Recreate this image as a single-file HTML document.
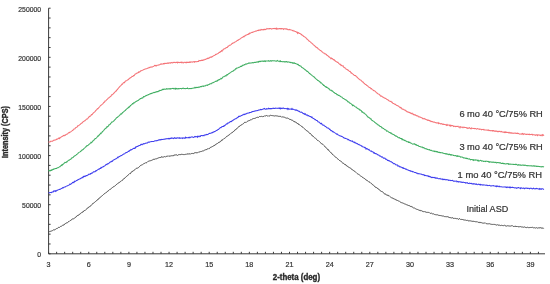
<!DOCTYPE html>
<html><head><meta charset="utf-8"><style>
html,body{margin:0;padding:0;background:#fff;}
svg{display:block;font-family:"Liberation Sans",sans-serif;filter:blur(0.35px);}
</style></head><body>
<svg width="550" height="284" viewBox="0 0 550 284">
<rect width="550" height="284" fill="#fff"/>
<g stroke="#3a3a3a" stroke-width="1" fill="none">
<path d="M48.6 8.2 V253.8 H545"/>
<line x1="48.6" y1="253.80" x2="50.6" y2="253.80"/><line x1="48.6" y1="243.98" x2="50.6" y2="243.98"/><line x1="48.6" y1="234.15" x2="50.6" y2="234.15"/><line x1="48.6" y1="224.33" x2="50.6" y2="224.33"/><line x1="48.6" y1="214.50" x2="50.6" y2="214.50"/><line x1="48.6" y1="204.68" x2="50.6" y2="204.68"/><line x1="48.6" y1="194.86" x2="50.6" y2="194.86"/><line x1="48.6" y1="185.03" x2="50.6" y2="185.03"/><line x1="48.6" y1="175.21" x2="50.6" y2="175.21"/><line x1="48.6" y1="165.38" x2="50.6" y2="165.38"/><line x1="48.6" y1="155.56" x2="50.6" y2="155.56"/><line x1="48.6" y1="145.74" x2="50.6" y2="145.74"/><line x1="48.6" y1="135.91" x2="50.6" y2="135.91"/><line x1="48.6" y1="126.09" x2="50.6" y2="126.09"/><line x1="48.6" y1="116.26" x2="50.6" y2="116.26"/><line x1="48.6" y1="106.44" x2="50.6" y2="106.44"/><line x1="48.6" y1="96.62" x2="50.6" y2="96.62"/><line x1="48.6" y1="86.79" x2="50.6" y2="86.79"/><line x1="48.6" y1="76.97" x2="50.6" y2="76.97"/><line x1="48.6" y1="67.14" x2="50.6" y2="67.14"/><line x1="48.6" y1="57.32" x2="50.6" y2="57.32"/><line x1="48.6" y1="47.50" x2="50.6" y2="47.50"/><line x1="48.6" y1="37.67" x2="50.6" y2="37.67"/><line x1="48.6" y1="27.85" x2="50.6" y2="27.85"/><line x1="48.6" y1="18.02" x2="50.6" y2="18.02"/><line x1="48.6" y1="8.20" x2="50.6" y2="8.20"/><line x1="48.60" y1="253.8" x2="48.60" y2="251.8"/><line x1="56.63" y1="253.8" x2="56.63" y2="251.8"/><line x1="64.66" y1="253.8" x2="64.66" y2="251.8"/><line x1="72.69" y1="253.8" x2="72.69" y2="251.8"/><line x1="80.72" y1="253.8" x2="80.72" y2="251.8"/><line x1="88.75" y1="253.8" x2="88.75" y2="251.8"/><line x1="96.78" y1="253.8" x2="96.78" y2="251.8"/><line x1="104.81" y1="253.8" x2="104.81" y2="251.8"/><line x1="112.84" y1="253.8" x2="112.84" y2="251.8"/><line x1="120.87" y1="253.8" x2="120.87" y2="251.8"/><line x1="128.90" y1="253.8" x2="128.90" y2="251.8"/><line x1="136.93" y1="253.8" x2="136.93" y2="251.8"/><line x1="144.96" y1="253.8" x2="144.96" y2="251.8"/><line x1="152.99" y1="253.8" x2="152.99" y2="251.8"/><line x1="161.02" y1="253.8" x2="161.02" y2="251.8"/><line x1="169.05" y1="253.8" x2="169.05" y2="251.8"/><line x1="177.08" y1="253.8" x2="177.08" y2="251.8"/><line x1="185.11" y1="253.8" x2="185.11" y2="251.8"/><line x1="193.14" y1="253.8" x2="193.14" y2="251.8"/><line x1="201.17" y1="253.8" x2="201.17" y2="251.8"/><line x1="209.20" y1="253.8" x2="209.20" y2="251.8"/><line x1="217.23" y1="253.8" x2="217.23" y2="251.8"/><line x1="225.26" y1="253.8" x2="225.26" y2="251.8"/><line x1="233.29" y1="253.8" x2="233.29" y2="251.8"/><line x1="241.32" y1="253.8" x2="241.32" y2="251.8"/><line x1="249.35" y1="253.8" x2="249.35" y2="251.8"/><line x1="257.38" y1="253.8" x2="257.38" y2="251.8"/><line x1="265.41" y1="253.8" x2="265.41" y2="251.8"/><line x1="273.44" y1="253.8" x2="273.44" y2="251.8"/><line x1="281.47" y1="253.8" x2="281.47" y2="251.8"/><line x1="289.50" y1="253.8" x2="289.50" y2="251.8"/><line x1="297.53" y1="253.8" x2="297.53" y2="251.8"/><line x1="305.56" y1="253.8" x2="305.56" y2="251.8"/><line x1="313.59" y1="253.8" x2="313.59" y2="251.8"/><line x1="321.62" y1="253.8" x2="321.62" y2="251.8"/><line x1="329.65" y1="253.8" x2="329.65" y2="251.8"/><line x1="337.68" y1="253.8" x2="337.68" y2="251.8"/><line x1="345.71" y1="253.8" x2="345.71" y2="251.8"/><line x1="353.74" y1="253.8" x2="353.74" y2="251.8"/><line x1="361.77" y1="253.8" x2="361.77" y2="251.8"/><line x1="369.80" y1="253.8" x2="369.80" y2="251.8"/><line x1="377.83" y1="253.8" x2="377.83" y2="251.8"/><line x1="385.86" y1="253.8" x2="385.86" y2="251.8"/><line x1="393.89" y1="253.8" x2="393.89" y2="251.8"/><line x1="401.92" y1="253.8" x2="401.92" y2="251.8"/><line x1="409.95" y1="253.8" x2="409.95" y2="251.8"/><line x1="417.98" y1="253.8" x2="417.98" y2="251.8"/><line x1="426.01" y1="253.8" x2="426.01" y2="251.8"/><line x1="434.04" y1="253.8" x2="434.04" y2="251.8"/><line x1="442.07" y1="253.8" x2="442.07" y2="251.8"/><line x1="450.10" y1="253.8" x2="450.10" y2="251.8"/><line x1="458.13" y1="253.8" x2="458.13" y2="251.8"/><line x1="466.16" y1="253.8" x2="466.16" y2="251.8"/><line x1="474.19" y1="253.8" x2="474.19" y2="251.8"/><line x1="482.22" y1="253.8" x2="482.22" y2="251.8"/><line x1="490.25" y1="253.8" x2="490.25" y2="251.8"/><line x1="498.28" y1="253.8" x2="498.28" y2="251.8"/><line x1="506.31" y1="253.8" x2="506.31" y2="251.8"/><line x1="514.34" y1="253.8" x2="514.34" y2="251.8"/><line x1="522.37" y1="253.8" x2="522.37" y2="251.8"/><line x1="530.40" y1="253.8" x2="530.40" y2="251.8"/><line x1="538.43" y1="253.8" x2="538.43" y2="251.8"/>
</g>
<g font-size="7.5" fill="#333" stroke="#333" stroke-width="0.2"><text x="41.1" y="257.1" text-anchor="end" textLength="3.8" lengthAdjust="spacingAndGlyphs">0</text><text x="41.1" y="208.0" text-anchor="end" textLength="19.0" lengthAdjust="spacingAndGlyphs">50000</text><text x="41.1" y="158.9" text-anchor="end" textLength="22.8" lengthAdjust="spacingAndGlyphs">100000</text><text x="41.1" y="109.7" text-anchor="end" textLength="22.8" lengthAdjust="spacingAndGlyphs">150000</text><text x="41.1" y="60.6" text-anchor="end" textLength="22.8" lengthAdjust="spacingAndGlyphs">200000</text><text x="41.1" y="11.5" text-anchor="end" textLength="22.8" lengthAdjust="spacingAndGlyphs">250000</text><text x="48.6" y="267" text-anchor="middle" textLength="4.0" lengthAdjust="spacingAndGlyphs">3</text><text x="88.8" y="267" text-anchor="middle" textLength="4.0" lengthAdjust="spacingAndGlyphs">6</text><text x="128.9" y="267" text-anchor="middle" textLength="4.0" lengthAdjust="spacingAndGlyphs">9</text><text x="169.0" y="267" text-anchor="middle" textLength="8.0" lengthAdjust="spacingAndGlyphs">12</text><text x="209.2" y="267" text-anchor="middle" textLength="8.0" lengthAdjust="spacingAndGlyphs">15</text><text x="249.3" y="267" text-anchor="middle" textLength="8.0" lengthAdjust="spacingAndGlyphs">18</text><text x="289.5" y="267" text-anchor="middle" textLength="8.0" lengthAdjust="spacingAndGlyphs">21</text><text x="329.7" y="267" text-anchor="middle" textLength="8.0" lengthAdjust="spacingAndGlyphs">24</text><text x="369.8" y="267" text-anchor="middle" textLength="8.0" lengthAdjust="spacingAndGlyphs">27</text><text x="409.9" y="267" text-anchor="middle" textLength="8.0" lengthAdjust="spacingAndGlyphs">30</text><text x="450.1" y="267" text-anchor="middle" textLength="8.0" lengthAdjust="spacingAndGlyphs">33</text><text x="490.2" y="267" text-anchor="middle" textLength="8.0" lengthAdjust="spacingAndGlyphs">36</text><text x="530.4" y="267" text-anchor="middle" textLength="8.0" lengthAdjust="spacingAndGlyphs">39</text></g>
<g fill="#2a2a2a" stroke="#2a2a2a" stroke-width="0.35" font-weight="bold">
<text x="296.4" y="279.8" font-size="8.2" text-anchor="middle" textLength="47.3" lengthAdjust="spacingAndGlyphs">2-theta (deg)</text>
<text transform="translate(8.4,132) rotate(-90)" font-size="8.2" text-anchor="middle" textLength="52" lengthAdjust="spacingAndGlyphs">Intensity (CPS)</text>
</g>
<path d="M48.5 232.30 L49.0 231.89 L49.5 231.69 L50.0 231.12 L50.5 231.31 L51.0 231.11 L51.5 230.99 L52.0 230.67 L52.5 230.59 L53.0 230.28 L53.5 229.87 L54.0 230.12 L54.5 229.89 L55.0 229.83 L55.5 229.22 L56.0 228.87 L56.5 228.58 L57.0 228.11 L57.5 228.40 L58.0 227.68 L58.5 227.40 L59.0 227.35 L59.5 227.46 L60.0 226.92 L60.5 226.37 L61.0 226.17 L61.5 226.19 L62.0 225.74 L62.5 225.33 L63.0 225.17 L63.5 225.10 L64.0 225.08 L64.5 224.08 L65.0 223.92 L65.5 223.58 L66.0 222.92 L66.5 222.95 L67.0 222.62 L67.5 222.78 L68.0 222.19 L68.5 221.54 L69.0 221.72 L69.5 221.18 L70.0 220.55 L70.5 220.48 L71.0 220.15 L71.5 219.76 L72.0 219.62 L72.5 218.78 L73.0 218.88 L73.5 218.81 L74.0 218.43 L74.5 218.13 L75.0 217.78 L75.5 217.50 L76.0 216.57 L76.5 216.64 L77.0 215.68 L77.5 215.59 L78.0 214.93 L78.5 215.22 L79.0 214.92 L79.5 214.22 L80.0 214.29 L80.5 213.38 L81.0 213.20 L81.5 212.83 L82.0 212.20 L82.5 212.16 L83.0 212.13 L83.5 211.10 L84.0 211.15 L84.5 210.54 L85.0 210.59 L85.5 209.93 L86.0 209.59 L86.5 209.19 L87.0 208.72 L87.5 207.97 L88.0 208.19 L88.5 207.19 L89.0 207.15 L89.5 206.84 L90.0 206.12 L90.5 205.94 L91.0 205.76 L91.5 205.09 L92.0 204.49 L92.5 203.62 L93.0 203.63 L93.5 203.28 L94.0 202.86 L94.5 202.32 L95.0 202.16 L95.5 201.49 L96.0 201.14 L96.5 200.85 L97.0 200.05 L97.5 199.71 L98.0 199.79 L98.5 199.04 L99.0 198.11 L99.5 197.93 L100.0 197.63 L100.5 197.34 L101.0 196.67 L101.5 196.09 L102.0 195.63 L102.5 195.51 L103.0 195.03 L103.5 194.44 L104.0 194.11 L104.5 193.67 L105.0 193.52 L105.5 192.82 L106.0 192.69 L106.5 192.39 L107.0 191.92 L107.5 191.25 L108.0 191.34 L108.5 190.51 L109.0 190.37 L109.5 189.73 L110.0 189.12 L110.5 189.17 L111.0 188.80 L111.5 188.33 L112.0 188.03 L112.5 187.44 L113.0 187.04 L113.5 186.78 L114.0 186.86 L114.5 186.24 L115.0 185.58 L115.5 185.44 L116.0 184.84 L116.5 184.47 L117.0 184.39 L117.5 183.72 L118.0 183.09 L118.5 182.89 L119.0 182.73 L119.5 182.36 L120.0 182.23 L120.5 181.41 L121.0 181.34 L121.5 180.88 L122.0 180.36 L122.5 180.17 L123.0 179.69 L123.5 178.98 L124.0 178.98 L124.5 178.05 L125.0 177.90 L125.5 177.44 L126.0 177.09 L126.5 176.39 L127.0 176.09 L127.5 175.62 L128.0 175.42 L128.5 174.58 L129.0 174.32 L129.5 173.81 L130.0 173.15 L130.5 173.60 L131.0 172.59 L131.5 171.87 L132.0 172.11 L132.5 171.17 L133.0 171.11 L133.5 170.85 L134.0 170.15 L134.5 169.84 L135.0 169.46 L135.5 169.21 L136.0 168.54 L136.5 168.29 L137.0 168.20 L137.5 168.12 L138.0 167.71 L138.5 167.62 L139.0 167.07 L139.5 166.48 L140.0 166.24 L140.5 165.49 L141.0 165.40 L141.5 165.06 L142.0 165.02 L142.5 164.79 L143.0 164.21 L143.5 163.89 L144.0 163.37 L144.5 163.39 L145.0 163.18 L145.5 162.94 L146.0 162.40 L146.5 162.74 L147.0 162.31 L147.5 161.78 L148.0 161.45 L148.5 161.27 L149.0 161.16 L149.5 160.91 L150.0 160.82 L150.5 160.69 L151.0 160.63 L151.5 160.40 L152.0 159.95 L152.5 159.89 L153.0 159.55 L153.5 159.34 L154.0 159.73 L154.5 159.05 L155.0 159.44 L155.5 158.77 L156.0 158.75 L156.5 158.78 L157.0 158.40 L157.5 158.33 L158.0 158.05 L158.5 157.86 L159.0 157.79 L159.5 157.55 L160.0 157.93 L160.5 157.41 L161.0 157.71 L161.5 156.63 L162.0 157.11 L162.5 157.13 L163.0 156.84 L163.5 157.04 L164.0 156.85 L164.5 156.56 L165.0 156.62 L165.5 157.06 L166.0 156.42 L166.5 156.35 L167.0 156.10 L167.5 156.16 L168.0 155.77 L168.5 155.94 L169.0 156.46 L169.5 156.08 L170.0 155.93 L170.5 155.97 L171.0 156.08 L171.5 155.74 L172.0 156.01 L172.5 155.73 L173.0 155.48 L173.5 155.76 L174.0 154.80 L174.5 155.14 L175.0 155.26 L175.5 154.93 L176.0 155.03 L176.5 154.86 L177.0 154.79 L177.5 155.47 L178.0 154.95 L178.5 154.73 L179.0 154.98 L179.5 154.58 L180.0 154.78 L180.5 154.61 L181.0 154.85 L181.5 154.14 L182.0 154.58 L182.5 154.41 L183.0 154.09 L183.5 154.55 L184.0 154.09 L184.5 154.60 L185.0 154.32 L185.5 154.33 L186.0 154.15 L186.5 154.29 L187.0 153.64 L187.5 154.02 L188.0 153.81 L188.5 153.96 L189.0 153.83 L189.5 153.92 L190.0 153.54 L190.5 154.06 L191.0 154.10 L191.5 153.48 L192.0 153.45 L192.5 153.44 L193.0 153.58 L193.5 153.64 L194.0 152.88 L194.5 152.92 L195.0 152.74 L195.5 152.64 L196.0 152.43 L196.5 152.78 L197.0 152.34 L197.5 152.83 L198.0 152.59 L198.5 152.05 L199.0 151.93 L199.5 151.89 L200.0 152.20 L200.5 151.57 L201.0 151.28 L201.5 151.44 L202.0 151.38 L202.5 150.98 L203.0 151.31 L203.5 150.83 L204.0 150.69 L204.5 150.21 L205.0 150.19 L205.5 149.96 L206.0 149.28 L206.5 149.63 L207.0 148.95 L207.5 149.12 L208.0 148.57 L208.5 149.10 L209.0 148.48 L209.5 148.35 L210.0 148.10 L210.5 147.34 L211.0 146.86 L211.5 147.01 L212.0 146.99 L212.5 146.52 L213.0 146.38 L213.5 146.11 L214.0 145.27 L214.5 145.36 L215.0 145.41 L215.5 144.54 L216.0 143.90 L216.5 143.98 L217.0 143.60 L217.5 143.47 L218.0 142.85 L218.5 142.73 L219.0 141.88 L219.5 142.21 L220.0 142.03 L220.5 141.61 L221.0 140.64 L221.5 140.68 L222.0 139.59 L222.5 139.94 L223.0 139.49 L223.5 138.92 L224.0 138.84 L224.5 138.42 L225.0 138.22 L225.5 137.67 L226.0 137.31 L226.5 136.46 L227.0 136.25 L227.5 136.02 L228.0 135.81 L228.5 135.35 L229.0 135.29 L229.5 134.38 L230.0 134.12 L230.5 133.82 L231.0 133.31 L231.5 133.06 L232.0 132.41 L232.5 132.44 L233.0 131.64 L233.5 131.53 L234.0 130.86 L234.5 130.78 L235.0 129.73 L235.5 129.74 L236.0 129.12 L236.5 128.86 L237.0 128.66 L237.5 127.75 L238.0 127.31 L238.5 126.99 L239.0 126.88 L239.5 126.02 L240.0 126.08 L240.5 125.40 L241.0 125.06 L241.5 124.87 L242.0 124.68 L242.5 124.11 L243.0 123.80 L243.5 123.57 L244.0 123.20 L244.5 122.35 L245.0 122.54 L245.5 122.36 L246.0 122.30 L246.5 122.23 L247.0 121.66 L247.5 121.27 L248.0 120.79 L248.5 120.77 L249.0 120.69 L249.5 120.56 L250.0 119.86 L250.5 119.88 L251.0 119.79 L251.5 119.81 L252.0 119.25 L252.5 118.88 L253.0 118.65 L253.5 118.54 L254.0 118.29 L254.5 118.45 L255.0 118.33 L255.5 118.10 L256.0 118.05 L256.5 117.55 L257.0 117.59 L257.5 117.29 L258.0 117.26 L258.5 117.40 L259.0 117.02 L259.5 116.51 L260.0 116.76 L260.5 116.56 L261.0 116.29 L261.5 116.36 L262.0 116.67 L262.5 116.74 L263.0 116.19 L263.5 116.44 L264.0 116.41 L264.5 115.83 L265.0 116.01 L265.5 115.95 L266.0 115.94 L266.5 115.49 L267.0 115.72 L267.5 115.98 L268.0 115.98 L268.5 116.07 L269.0 115.57 L269.5 116.03 L270.0 115.76 L270.5 115.30 L271.0 115.77 L271.5 115.53 L272.0 115.73 L272.5 115.62 L273.0 115.93 L273.5 115.75 L274.0 115.67 L274.5 115.98 L275.0 115.87 L275.5 115.78 L276.0 116.20 L276.5 115.89 L277.0 115.91 L277.5 116.00 L278.0 115.87 L278.5 116.15 L279.0 116.76 L279.5 116.23 L280.0 116.52 L280.5 116.37 L281.0 116.57 L281.5 117.13 L282.0 117.10 L282.5 116.87 L283.0 117.11 L283.5 117.04 L284.0 117.17 L284.5 117.27 L285.0 117.40 L285.5 117.81 L286.0 118.02 L286.5 118.15 L287.0 118.17 L287.5 118.08 L288.0 118.54 L288.5 118.54 L289.0 119.13 L289.5 119.26 L290.0 119.51 L290.5 119.48 L291.0 119.38 L291.5 120.22 L292.0 120.52 L292.5 120.17 L293.0 120.78 L293.5 121.28 L294.0 121.04 L294.5 121.95 L295.0 121.76 L295.5 121.90 L296.0 122.73 L296.5 122.80 L297.0 122.91 L297.5 123.57 L298.0 123.28 L298.5 124.45 L299.0 124.23 L299.5 124.83 L300.0 125.05 L300.5 125.62 L301.0 126.11 L301.5 126.13 L302.0 126.88 L302.5 127.06 L303.0 127.39 L303.5 127.91 L304.0 128.16 L304.5 128.63 L305.0 129.44 L305.5 129.63 L306.0 130.34 L306.5 130.61 L307.0 130.72 L307.5 130.96 L308.0 131.65 L308.5 132.30 L309.0 132.67 L309.5 132.92 L310.0 133.77 L310.5 133.60 L311.0 134.15 L311.5 134.89 L312.0 135.79 L312.5 135.84 L313.0 135.96 L313.5 136.75 L314.0 137.21 L314.5 137.69 L315.0 137.82 L315.5 138.16 L316.0 138.78 L316.5 139.26 L317.0 139.94 L317.5 140.46 L318.0 140.25 L318.5 140.72 L319.0 141.24 L319.5 141.63 L320.0 142.22 L320.5 142.66 L321.0 143.06 L321.5 143.75 L322.0 143.88 L322.5 144.15 L323.0 144.51 L323.5 145.10 L324.0 145.58 L324.5 145.88 L325.0 146.92 L325.5 147.31 L326.0 147.67 L326.5 148.06 L327.0 148.41 L327.5 149.05 L328.0 150.16 L328.5 149.76 L329.0 150.78 L329.5 151.42 L330.0 151.78 L330.5 152.18 L331.0 152.92 L331.5 153.00 L332.0 153.86 L332.5 154.54 L333.0 154.48 L333.5 155.00 L334.0 155.68 L334.5 156.33 L335.0 156.85 L335.5 157.15 L336.0 157.29 L336.5 157.62 L337.0 158.34 L337.5 158.78 L338.0 158.86 L338.5 159.51 L339.0 159.96 L339.5 160.51 L340.0 160.45 L340.5 161.17 L341.0 161.17 L341.5 161.71 L342.0 162.16 L342.5 162.89 L343.0 163.65 L343.5 163.35 L344.0 163.77 L344.5 164.25 L345.0 164.09 L345.5 164.92 L346.0 164.84 L346.5 165.84 L347.0 166.16 L347.5 166.31 L348.0 166.38 L348.5 167.28 L349.0 167.33 L349.5 167.65 L350.0 168.11 L350.5 167.96 L351.0 168.78 L351.5 169.26 L352.0 169.47 L352.5 169.79 L353.0 169.90 L353.5 170.62 L354.0 170.88 L354.5 171.21 L355.0 171.46 L355.5 172.15 L356.0 172.62 L356.5 172.81 L357.0 173.31 L357.5 173.79 L358.0 174.24 L358.5 174.33 L359.0 174.62 L359.5 174.96 L360.0 175.44 L360.5 175.93 L361.0 176.39 L361.5 176.47 L362.0 176.96 L362.5 177.08 L363.0 177.93 L363.5 177.93 L364.0 178.45 L364.5 178.57 L365.0 179.02 L365.5 179.29 L366.0 180.17 L366.5 180.22 L367.0 180.46 L367.5 180.64 L368.0 181.08 L368.5 181.69 L369.0 182.30 L369.5 181.98 L370.0 182.46 L370.5 183.00 L371.0 183.27 L371.5 183.42 L372.0 184.17 L372.5 184.72 L373.0 184.59 L373.5 185.38 L374.0 185.93 L374.5 186.33 L375.0 186.41 L375.5 187.40 L376.0 187.41 L376.5 187.50 L377.0 188.28 L377.5 188.20 L378.0 189.03 L378.5 188.94 L379.0 189.76 L379.5 189.83 L380.0 190.58 L380.5 190.86 L381.0 191.15 L381.5 191.42 L382.0 191.99 L382.5 191.70 L383.0 192.53 L383.5 192.86 L384.0 193.22 L384.5 193.60 L385.0 194.55 L385.5 194.07 L386.0 194.53 L386.5 194.69 L387.0 195.30 L387.5 194.81 L388.0 195.92 L388.5 195.69 L389.0 195.63 L389.5 196.18 L390.0 196.66 L390.5 197.03 L391.0 197.26 L391.5 197.73 L392.0 197.82 L392.5 198.09 L393.0 197.90 L393.5 198.75 L394.0 199.13 L394.5 199.08 L395.0 199.01 L395.5 199.39 L396.0 200.30 L396.5 200.04 L397.0 200.27 L397.5 200.47 L398.0 201.03 L398.5 200.98 L399.0 201.15 L399.5 201.24 L400.0 201.77 L400.5 202.24 L401.0 202.21 L401.5 202.65 L402.0 202.72 L402.5 202.93 L403.0 203.15 L403.5 203.34 L404.0 203.77 L404.5 203.86 L405.0 203.84 L405.5 204.20 L406.0 204.36 L406.5 204.70 L407.0 204.84 L407.5 205.10 L408.0 204.89 L408.5 205.52 L409.0 205.94 L409.5 205.58 L410.0 206.46 L410.5 206.40 L411.0 206.53 L411.5 206.42 L412.0 207.30 L412.5 207.09 L413.0 207.43 L413.5 207.91 L414.0 207.80 L414.5 208.04 L415.0 208.24 L415.5 208.69 L416.0 209.06 L416.5 209.23 L417.0 209.44 L417.5 209.47 L418.0 209.77 L418.5 209.77 L419.0 210.54 L419.5 210.33 L420.0 210.02 L420.5 210.39 L421.0 211.14 L421.5 210.64 L422.0 211.00 L422.5 211.34 L423.0 211.15 L423.5 211.77 L424.0 212.04 L424.5 211.62 L425.0 212.17 L425.5 211.85 L426.0 211.94 L426.5 212.33 L427.0 212.44 L427.5 212.37 L428.0 212.80 L428.5 212.41 L429.0 212.66 L429.5 212.73 L430.0 213.26 L430.5 213.39 L431.0 213.49 L431.5 213.19 L432.0 213.64 L432.5 213.85 L433.0 213.53 L433.5 213.84 L434.0 214.30 L434.5 214.44 L435.0 214.47 L435.5 214.66 L436.0 214.73 L436.5 214.81 L437.0 214.86 L437.5 214.80 L438.0 215.05 L438.5 215.11 L439.0 215.81 L439.5 215.46 L440.0 215.50 L440.5 215.55 L441.0 215.68 L441.5 215.74 L442.0 216.02 L442.5 216.00 L443.0 216.28 L443.5 216.05 L444.0 216.38 L444.5 216.59 L445.0 216.25 L445.5 216.64 L446.0 216.75 L446.5 216.73 L447.0 216.79 L447.5 216.59 L448.0 217.35 L448.5 217.00 L449.0 217.03 L449.5 217.55 L450.0 217.10 L450.5 217.82 L451.0 217.80 L451.5 217.94 L452.0 217.87 L452.5 217.73 L453.0 217.68 L453.5 218.51 L454.0 218.18 L454.5 218.26 L455.0 218.81 L455.5 218.41 L456.0 218.58 L456.5 218.66 L457.0 218.76 L457.5 218.64 L458.0 218.83 L458.5 219.31 L459.0 219.27 L459.5 218.53 L460.0 218.83 L460.5 219.41 L461.0 219.39 L461.5 219.41 L462.0 219.80 L462.5 219.26 L463.0 219.99 L463.5 219.84 L464.0 220.01 L464.5 220.03 L465.0 220.24 L465.5 220.08 L466.0 220.09 L466.5 220.47 L467.0 220.42 L467.5 220.18 L468.0 220.84 L468.5 220.89 L469.0 221.03 L469.5 220.81 L470.0 220.95 L470.5 220.87 L471.0 220.83 L471.5 221.14 L472.0 221.24 L472.5 221.14 L473.0 221.77 L473.5 221.10 L474.0 221.35 L474.5 221.47 L475.0 221.98 L475.5 221.72 L476.0 221.79 L476.5 221.75 L477.0 221.85 L477.5 221.81 L478.0 222.40 L478.5 222.39 L479.0 222.56 L479.5 222.27 L480.0 223.05 L480.5 222.36 L481.0 222.20 L481.5 222.67 L482.0 222.84 L482.5 223.05 L483.0 222.74 L483.5 223.17 L484.0 223.49 L484.5 223.00 L485.0 223.10 L485.5 222.97 L486.0 223.47 L486.5 223.68 L487.0 223.73 L487.5 223.82 L488.0 224.02 L488.5 223.81 L489.0 224.06 L489.5 223.71 L490.0 223.82 L490.5 224.12 L491.0 223.95 L491.5 224.33 L492.0 224.57 L492.5 224.43 L493.0 224.24 L493.5 224.31 L494.0 224.84 L494.5 224.43 L495.0 224.68 L495.5 224.67 L496.0 224.80 L496.5 225.09 L497.0 224.79 L497.5 224.66 L498.0 225.34 L498.5 225.12 L499.0 225.29 L499.5 225.17 L500.0 225.40 L500.5 225.55 L501.0 225.62 L501.5 225.30 L502.0 225.33 L502.5 225.54 L503.0 225.54 L503.5 225.65 L504.0 225.41 L504.5 225.09 L505.0 225.74 L505.5 225.85 L506.0 225.86 L506.5 226.12 L507.0 225.97 L507.5 225.74 L508.0 226.08 L508.5 225.88 L509.0 226.21 L509.5 226.02 L510.0 226.10 L510.5 226.09 L511.0 226.09 L511.5 225.78 L512.0 226.16 L512.5 225.69 L513.0 226.33 L513.5 226.48 L514.0 226.75 L514.5 226.42 L515.0 226.22 L515.5 226.06 L516.0 226.88 L516.5 226.17 L517.0 226.72 L517.5 226.06 L518.0 226.59 L518.5 226.79 L519.0 226.75 L519.5 226.71 L520.0 226.57 L520.5 226.59 L521.0 227.05 L521.5 226.96 L522.0 226.87 L522.5 226.99 L523.0 226.78 L523.5 227.25 L524.0 227.34 L524.5 226.93 L525.0 227.16 L525.5 227.41 L526.0 227.07 L526.5 227.70 L527.0 227.62 L527.5 227.26 L528.0 227.57 L528.5 227.76 L529.0 227.15 L529.5 227.59 L530.0 227.45 L530.5 227.47 L531.0 227.70 L531.5 227.47 L532.0 227.29 L532.5 227.31 L533.0 227.65 L533.5 227.82 L534.0 227.70 L534.5 227.70 L535.0 227.75 L535.5 228.06 L536.0 227.92 L536.5 227.66 L537.0 227.79 L537.5 228.14 L538.0 227.77 L538.5 227.84 L539.0 227.95 L539.5 227.75 L540.0 228.20 L540.5 227.55 L541.0 228.38 L541.5 227.99 L542.0 227.83 L542.5 228.19 L543.0 227.77 L543.5 228.29 L544.0 228.36" stroke="#4c4c4c" stroke-width="1.0" fill="none"/>
<path d="M48.5 192.78 L49.0 192.74 L49.5 192.94 L50.0 192.48 L50.5 192.51 L51.0 192.46 L51.5 192.59 L52.0 191.99 L52.5 191.95 L53.0 192.04 L53.5 191.06 L54.0 191.39 L54.5 190.86 L55.0 190.70 L55.5 191.35 L56.0 190.78 L56.5 190.88 L57.0 190.31 L57.5 190.28 L58.0 189.87 L58.5 189.65 L59.0 189.55 L59.5 189.39 L60.0 189.49 L60.5 188.89 L61.0 188.80 L61.5 188.44 L62.0 188.31 L62.5 187.76 L63.0 188.06 L63.5 187.47 L64.0 187.35 L64.5 187.06 L65.0 187.07 L65.5 186.72 L66.0 186.36 L66.5 186.14 L67.0 185.92 L67.5 185.75 L68.0 185.43 L68.5 185.34 L69.0 185.15 L69.5 184.66 L70.0 183.97 L70.5 184.37 L71.0 184.19 L71.5 183.37 L72.0 183.09 L72.5 182.45 L73.0 182.80 L73.5 182.14 L74.0 182.49 L74.5 181.26 L75.0 181.55 L75.5 181.40 L76.0 180.89 L76.5 180.52 L77.0 180.48 L77.5 180.03 L78.0 179.80 L78.5 179.59 L79.0 179.20 L79.5 179.01 L80.0 178.96 L80.5 178.44 L81.0 178.30 L81.5 177.84 L82.0 177.95 L82.5 177.21 L83.0 177.46 L83.5 176.34 L84.0 176.56 L84.5 176.18 L85.0 176.51 L85.5 176.12 L86.0 175.54 L86.5 175.47 L87.0 175.67 L87.5 175.13 L88.0 175.04 L88.5 174.35 L89.0 174.12 L89.5 174.34 L90.0 174.48 L90.5 173.62 L91.0 173.62 L91.5 173.03 L92.0 173.27 L92.5 172.64 L93.0 172.38 L93.5 171.80 L94.0 171.86 L94.5 171.73 L95.0 171.72 L95.5 170.89 L96.0 171.09 L96.5 170.52 L97.0 170.25 L97.5 169.82 L98.0 169.37 L98.5 169.19 L99.0 169.53 L99.5 168.61 L100.0 168.49 L100.5 168.53 L101.0 167.52 L101.5 167.79 L102.0 167.27 L102.5 167.12 L103.0 166.97 L103.5 166.44 L104.0 166.12 L104.5 166.01 L105.0 165.68 L105.5 165.06 L106.0 164.86 L106.5 164.29 L107.0 164.55 L107.5 163.68 L108.0 163.67 L108.5 163.69 L109.0 163.17 L109.5 162.61 L110.0 162.19 L110.5 161.89 L111.0 161.92 L111.5 161.47 L112.0 161.08 L112.5 161.34 L113.0 160.28 L113.5 160.05 L114.0 159.77 L114.5 159.59 L115.0 159.32 L115.5 158.89 L116.0 158.82 L116.5 158.49 L117.0 158.01 L117.5 157.25 L118.0 157.68 L118.5 157.01 L119.0 156.79 L119.5 156.61 L120.0 156.08 L120.5 155.88 L121.0 155.78 L121.5 155.40 L122.0 155.25 L122.5 154.69 L123.0 154.53 L123.5 154.05 L124.0 153.93 L124.5 153.76 L125.0 153.34 L125.5 152.79 L126.0 152.77 L126.5 152.55 L127.0 152.47 L127.5 151.92 L128.0 151.55 L128.5 151.10 L129.0 151.50 L129.5 150.57 L130.0 150.25 L130.5 150.18 L131.0 149.52 L131.5 149.88 L132.0 149.40 L132.5 149.18 L133.0 148.58 L133.5 148.40 L134.0 148.42 L134.5 148.15 L135.0 148.30 L135.5 147.64 L136.0 146.71 L136.5 146.88 L137.0 146.51 L137.5 146.57 L138.0 146.06 L138.5 145.95 L139.0 145.53 L139.5 145.51 L140.0 145.49 L140.5 144.83 L141.0 144.33 L141.5 144.36 L142.0 144.76 L142.5 144.30 L143.0 144.02 L143.5 143.72 L144.0 144.00 L144.5 143.68 L145.0 143.44 L145.5 143.20 L146.0 143.14 L146.5 142.95 L147.0 143.00 L147.5 143.02 L148.0 142.16 L148.5 142.14 L149.0 142.30 L149.5 142.21 L150.0 141.73 L150.5 141.81 L151.0 141.74 L151.5 141.61 L152.0 141.50 L152.5 141.47 L153.0 141.57 L153.5 141.43 L154.0 141.29 L154.5 141.11 L155.0 140.78 L155.5 140.72 L156.0 140.86 L156.5 140.62 L157.0 140.65 L157.5 140.42 L158.0 140.26 L158.5 140.23 L159.0 139.68 L159.5 139.88 L160.0 139.68 L160.5 139.90 L161.0 139.47 L161.5 139.58 L162.0 139.35 L162.5 139.47 L163.0 139.45 L163.5 139.17 L164.0 139.17 L164.5 139.12 L165.0 139.19 L165.5 138.89 L166.0 138.91 L166.5 138.75 L167.0 138.58 L167.5 138.77 L168.0 138.77 L168.5 138.45 L169.0 138.92 L169.5 138.35 L170.0 138.63 L170.5 138.50 L171.0 137.99 L171.5 138.31 L172.0 137.92 L172.5 138.20 L173.0 138.33 L173.5 138.55 L174.0 138.28 L174.5 137.75 L175.0 137.98 L175.5 138.37 L176.0 138.06 L176.5 138.40 L177.0 137.84 L177.5 137.87 L178.0 137.69 L178.5 137.90 L179.0 138.26 L179.5 137.78 L180.0 138.17 L180.5 138.08 L181.0 138.15 L181.5 137.92 L182.0 137.98 L182.5 138.44 L183.0 137.69 L183.5 138.12 L184.0 138.28 L184.5 138.03 L185.0 138.27 L185.5 137.23 L186.0 137.79 L186.5 137.56 L187.0 137.69 L187.5 137.72 L188.0 137.80 L188.5 137.46 L189.0 137.79 L189.5 137.20 L190.0 137.71 L190.5 137.39 L191.0 137.00 L191.5 136.95 L192.0 136.89 L192.5 137.01 L193.0 137.20 L193.5 137.41 L194.0 137.24 L194.5 136.71 L195.0 136.44 L195.5 136.81 L196.0 136.50 L196.5 136.70 L197.0 136.52 L197.5 137.16 L198.0 136.13 L198.5 136.50 L199.0 136.75 L199.5 136.16 L200.0 135.98 L200.5 136.42 L201.0 135.48 L201.5 135.45 L202.0 135.44 L202.5 135.68 L203.0 135.64 L203.5 135.32 L204.0 135.70 L204.5 135.04 L205.0 134.94 L205.5 134.74 L206.0 134.94 L206.5 134.52 L207.0 134.29 L207.5 134.60 L208.0 134.37 L208.5 134.15 L209.0 133.49 L209.5 133.38 L210.0 133.41 L210.5 133.24 L211.0 133.03 L211.5 132.90 L212.0 132.91 L212.5 132.35 L213.0 132.43 L213.5 132.07 L214.0 131.82 L214.5 131.62 L215.0 131.58 L215.5 131.20 L216.0 130.67 L216.5 130.61 L217.0 130.24 L217.5 129.97 L218.0 129.48 L218.5 129.41 L219.0 128.93 L219.5 128.25 L220.0 127.88 L220.5 127.52 L221.0 127.59 L221.5 127.03 L222.0 126.79 L222.5 126.54 L223.0 126.53 L223.5 126.44 L224.0 125.63 L224.5 125.80 L225.0 125.18 L225.5 125.02 L226.0 124.39 L226.5 123.88 L227.0 123.96 L227.5 123.83 L228.0 122.89 L228.5 122.92 L229.0 122.67 L229.5 122.45 L230.0 121.77 L230.5 121.58 L231.0 121.61 L231.5 121.50 L232.0 120.82 L232.5 120.72 L233.0 120.24 L233.5 120.00 L234.0 119.53 L234.5 119.27 L235.0 118.91 L235.5 118.77 L236.0 118.71 L236.5 118.23 L237.0 118.06 L237.5 117.51 L238.0 117.54 L238.5 116.42 L239.0 116.55 L239.5 116.54 L240.0 115.96 L240.5 116.24 L241.0 115.93 L241.5 115.45 L242.0 115.44 L242.5 114.87 L243.0 114.78 L243.5 114.69 L244.0 114.22 L244.5 114.61 L245.0 114.04 L245.5 114.22 L246.0 113.78 L246.5 113.71 L247.0 113.27 L247.5 113.23 L248.0 113.04 L248.5 113.03 L249.0 113.12 L249.5 112.53 L250.0 112.47 L250.5 112.43 L251.0 112.39 L251.5 112.02 L252.0 111.81 L252.5 111.62 L253.0 111.60 L253.5 111.51 L254.0 111.16 L254.5 111.10 L255.0 111.19 L255.5 110.88 L256.0 110.63 L256.5 110.78 L257.0 110.65 L257.5 110.51 L258.0 110.40 L258.5 110.05 L259.0 110.07 L259.5 109.99 L260.0 109.85 L260.5 109.33 L261.0 109.63 L261.5 109.62 L262.0 109.57 L262.5 109.31 L263.0 109.31 L263.5 108.83 L264.0 108.83 L264.5 108.44 L265.0 108.98 L265.5 109.33 L266.0 109.29 L266.5 108.60 L267.0 108.94 L267.5 109.03 L268.0 108.63 L268.5 108.22 L269.0 108.92 L269.5 108.49 L270.0 108.44 L270.5 108.87 L271.0 108.56 L271.5 108.61 L272.0 108.75 L272.5 108.34 L273.0 108.14 L273.5 108.51 L274.0 108.32 L274.5 108.47 L275.0 108.38 L275.5 108.12 L276.0 108.28 L276.5 108.20 L277.0 108.22 L277.5 108.26 L278.0 108.35 L278.5 108.32 L279.0 108.00 L279.5 108.43 L280.0 107.98 L280.5 108.80 L281.0 108.16 L281.5 108.33 L282.0 108.65 L282.5 108.33 L283.0 108.12 L283.5 108.11 L284.0 108.51 L284.5 108.56 L285.0 108.68 L285.5 108.59 L286.0 108.45 L286.5 108.69 L287.0 108.93 L287.5 108.47 L288.0 109.47 L288.5 108.63 L289.0 109.04 L289.5 109.23 L290.0 109.07 L290.5 109.00 L291.0 109.16 L291.5 109.37 L292.0 108.58 L292.5 109.36 L293.0 109.28 L293.5 109.33 L294.0 109.63 L294.5 109.78 L295.0 110.00 L295.5 109.91 L296.0 110.45 L296.5 109.92 L297.0 110.35 L297.5 110.48 L298.0 110.97 L298.5 111.05 L299.0 111.49 L299.5 111.42 L300.0 112.10 L300.5 112.21 L301.0 112.17 L301.5 112.14 L302.0 112.49 L302.5 112.65 L303.0 113.50 L303.5 113.63 L304.0 113.42 L304.5 114.35 L305.0 114.10 L305.5 113.89 L306.0 114.85 L306.5 115.12 L307.0 115.06 L307.5 115.08 L308.0 115.77 L308.5 115.62 L309.0 115.96 L309.5 116.31 L310.0 116.53 L310.5 116.62 L311.0 116.76 L311.5 117.43 L312.0 117.07 L312.5 117.93 L313.0 118.22 L313.5 118.59 L314.0 118.71 L314.5 119.17 L315.0 119.62 L315.5 119.55 L316.0 120.13 L316.5 120.54 L317.0 120.52 L317.5 120.94 L318.0 121.84 L318.5 122.06 L319.0 122.01 L319.5 122.68 L320.0 122.95 L320.5 123.51 L321.0 123.79 L321.5 123.34 L322.0 124.15 L322.5 124.85 L323.0 125.25 L323.5 125.09 L324.0 125.29 L324.5 125.95 L325.0 126.10 L325.5 126.57 L326.0 126.66 L326.5 127.43 L327.0 127.73 L327.5 128.05 L328.0 128.06 L328.5 128.27 L329.0 128.71 L329.5 129.44 L330.0 129.28 L330.5 130.16 L331.0 130.74 L331.5 130.55 L332.0 130.98 L332.5 131.57 L333.0 131.88 L333.5 131.86 L334.0 132.27 L334.5 132.65 L335.0 132.88 L335.5 133.36 L336.0 133.61 L336.5 134.12 L337.0 133.74 L337.5 134.66 L338.0 134.86 L338.5 134.92 L339.0 135.31 L339.5 135.70 L340.0 135.82 L340.5 135.95 L341.0 136.32 L341.5 136.36 L342.0 136.47 L342.5 136.81 L343.0 137.07 L343.5 137.52 L344.0 137.89 L344.5 138.00 L345.0 138.50 L345.5 138.38 L346.0 138.49 L346.5 138.70 L347.0 138.88 L347.5 139.24 L348.0 139.83 L348.5 139.42 L349.0 140.09 L349.5 140.19 L350.0 140.60 L350.5 140.53 L351.0 141.02 L351.5 140.97 L352.0 141.44 L352.5 141.09 L353.0 141.86 L353.5 142.14 L354.0 141.85 L354.5 142.61 L355.0 142.41 L355.5 143.10 L356.0 143.12 L356.5 143.50 L357.0 143.67 L357.5 143.56 L358.0 144.41 L358.5 144.58 L359.0 144.34 L359.5 144.94 L360.0 145.17 L360.5 145.18 L361.0 145.36 L361.5 146.13 L362.0 146.03 L362.5 146.59 L363.0 147.08 L363.5 147.04 L364.0 147.01 L364.5 147.70 L365.0 147.46 L365.5 147.84 L366.0 148.96 L366.5 148.41 L367.0 148.94 L367.5 148.91 L368.0 149.39 L368.5 149.74 L369.0 149.38 L369.5 150.10 L370.0 150.66 L370.5 150.98 L371.0 151.14 L371.5 151.13 L372.0 151.70 L372.5 151.78 L373.0 152.00 L373.5 152.44 L374.0 153.22 L374.5 152.79 L375.0 153.50 L375.5 153.60 L376.0 153.49 L376.5 153.89 L377.0 154.33 L377.5 154.53 L378.0 154.97 L378.5 154.96 L379.0 155.22 L379.5 155.93 L380.0 155.96 L380.5 156.04 L381.0 156.49 L381.5 157.15 L382.0 156.88 L382.5 156.94 L383.0 157.73 L383.5 158.22 L384.0 158.32 L384.5 158.02 L385.0 158.12 L385.5 159.13 L386.0 159.08 L386.5 159.51 L387.0 159.64 L387.5 160.33 L388.0 160.26 L388.5 160.47 L389.0 160.85 L389.5 160.85 L390.0 161.44 L390.5 161.67 L391.0 161.51 L391.5 162.01 L392.0 162.27 L392.5 162.48 L393.0 163.19 L393.5 163.64 L394.0 163.74 L394.5 163.61 L395.0 163.82 L395.5 164.65 L396.0 164.67 L396.5 164.97 L397.0 164.96 L397.5 165.05 L398.0 166.23 L398.5 165.85 L399.0 166.17 L399.5 166.20 L400.0 167.01 L400.5 166.82 L401.0 167.08 L401.5 167.34 L402.0 167.54 L402.5 168.06 L403.0 167.56 L403.5 168.31 L404.0 168.24 L404.5 168.50 L405.0 168.66 L405.5 169.11 L406.0 168.95 L406.5 169.32 L407.0 169.78 L407.5 169.74 L408.0 169.97 L408.5 170.37 L409.0 170.51 L409.5 170.61 L410.0 170.88 L410.5 170.86 L411.0 171.42 L411.5 171.17 L412.0 171.22 L412.5 171.83 L413.0 171.61 L413.5 171.86 L414.0 172.18 L414.5 172.55 L415.0 172.45 L415.5 172.62 L416.0 172.79 L416.5 173.13 L417.0 173.10 L417.5 173.42 L418.0 173.82 L418.5 173.62 L419.0 173.73 L419.5 173.74 L420.0 173.91 L420.5 173.92 L421.0 174.06 L421.5 174.28 L422.0 174.59 L422.5 174.73 L423.0 174.63 L423.5 174.90 L424.0 174.66 L424.5 175.52 L425.0 175.74 L425.5 175.32 L426.0 175.60 L426.5 175.67 L427.0 175.99 L427.5 175.84 L428.0 175.82 L428.5 176.50 L429.0 176.25 L429.5 176.73 L430.0 176.61 L430.5 176.79 L431.0 177.31 L431.5 177.58 L432.0 177.32 L432.5 177.37 L433.0 177.64 L433.5 177.55 L434.0 177.39 L434.5 177.85 L435.0 177.45 L435.5 178.12 L436.0 178.00 L436.5 178.23 L437.0 177.94 L437.5 178.17 L438.0 178.54 L438.5 178.80 L439.0 178.76 L439.5 178.75 L440.0 178.50 L440.5 178.96 L441.0 178.96 L441.5 178.95 L442.0 179.40 L442.5 179.04 L443.0 179.69 L443.5 179.26 L444.0 179.34 L444.5 179.56 L445.0 179.38 L445.5 179.65 L446.0 179.85 L446.5 179.53 L447.0 179.80 L447.5 179.75 L448.0 180.03 L448.5 180.45 L449.0 180.18 L449.5 180.31 L450.0 180.47 L450.5 180.25 L451.0 180.62 L451.5 180.54 L452.0 180.59 L452.5 180.43 L453.0 180.75 L453.5 181.19 L454.0 181.31 L454.5 181.06 L455.0 181.21 L455.5 181.18 L456.0 181.10 L456.5 181.02 L457.0 181.86 L457.5 181.34 L458.0 181.68 L458.5 182.04 L459.0 181.69 L459.5 181.81 L460.0 181.97 L460.5 181.91 L461.0 182.12 L461.5 182.07 L462.0 182.47 L462.5 182.41 L463.0 182.12 L463.5 182.17 L464.0 182.40 L464.5 182.49 L465.0 182.55 L465.5 183.00 L466.0 182.72 L466.5 182.85 L467.0 183.06 L467.5 182.67 L468.0 183.28 L468.5 183.38 L469.0 183.64 L469.5 183.18 L470.0 183.36 L470.5 183.57 L471.0 183.50 L471.5 183.33 L472.0 183.90 L472.5 183.70 L473.0 183.89 L473.5 183.63 L474.0 184.13 L474.5 183.89 L475.0 183.86 L475.5 184.24 L476.0 184.36 L476.5 183.96 L477.0 184.43 L477.5 184.62 L478.0 184.37 L478.5 184.05 L479.0 184.53 L479.5 184.69 L480.0 184.29 L480.5 184.93 L481.0 184.57 L481.5 184.64 L482.0 184.96 L482.5 184.82 L483.0 185.11 L483.5 184.88 L484.0 185.03 L484.5 185.00 L485.0 185.10 L485.5 185.24 L486.0 185.27 L486.5 185.15 L487.0 185.48 L487.5 185.31 L488.0 185.65 L488.5 185.57 L489.0 185.47 L489.5 185.38 L490.0 185.61 L490.5 185.96 L491.0 185.75 L491.5 185.97 L492.0 185.79 L492.5 185.79 L493.0 185.76 L493.5 185.54 L494.0 186.08 L494.5 186.07 L495.0 186.10 L495.5 186.34 L496.0 186.00 L496.5 186.64 L497.0 185.99 L497.5 186.42 L498.0 186.15 L498.5 186.40 L499.0 186.76 L499.5 186.22 L500.0 186.63 L500.5 186.66 L501.0 186.72 L501.5 186.78 L502.0 186.95 L502.5 186.92 L503.0 186.94 L503.5 187.09 L504.0 187.08 L504.5 186.95 L505.0 186.75 L505.5 187.23 L506.0 187.02 L506.5 187.50 L507.0 187.05 L507.5 186.95 L508.0 187.50 L508.5 187.12 L509.0 186.99 L509.5 187.61 L510.0 187.07 L510.5 187.71 L511.0 187.25 L511.5 187.58 L512.0 187.57 L512.5 187.16 L513.0 187.58 L513.5 187.53 L514.0 187.68 L514.5 187.80 L515.0 188.06 L515.5 187.69 L516.0 187.75 L516.5 188.27 L517.0 187.99 L517.5 188.02 L518.0 187.55 L518.5 187.60 L519.0 187.82 L519.5 187.93 L520.0 188.10 L520.5 188.62 L521.0 187.77 L521.5 187.98 L522.0 188.24 L522.5 188.18 L523.0 188.40 L523.5 188.11 L524.0 188.00 L524.5 188.69 L525.0 188.35 L525.5 188.01 L526.0 188.22 L526.5 188.31 L527.0 188.02 L527.5 188.54 L528.0 188.43 L528.5 188.34 L529.0 188.30 L529.5 188.83 L530.0 188.48 L530.5 188.35 L531.0 188.09 L531.5 188.33 L532.0 188.74 L532.5 188.94 L533.0 188.38 L533.5 188.21 L534.0 188.69 L534.5 188.70 L535.0 188.92 L535.5 188.60 L536.0 188.81 L536.5 188.40 L537.0 188.56 L537.5 188.74 L538.0 188.79 L538.5 189.03 L539.0 189.21 L539.5 188.65 L540.0 189.36 L540.5 188.86 L541.0 188.95 L541.5 189.32 L542.0 188.57 L542.5 188.80 L543.0 188.96 L543.5 189.18 L544.0 189.42" stroke="#4040EE" stroke-width="1.05" fill="none"/>
<path d="M48.5 171.13 L49.0 170.59 L49.5 170.85 L50.0 170.46 L50.5 170.75 L51.0 170.21 L51.5 170.35 L52.0 169.72 L52.5 169.95 L53.0 169.30 L53.5 169.44 L54.0 168.87 L54.5 169.01 L55.0 168.67 L55.5 168.43 L56.0 168.49 L56.5 168.39 L57.0 168.02 L57.5 167.82 L58.0 167.65 L58.5 167.49 L59.0 167.16 L59.5 166.72 L60.0 166.75 L60.5 165.87 L61.0 165.81 L61.5 165.03 L62.0 165.45 L62.5 164.50 L63.0 164.23 L63.5 164.14 L64.0 163.44 L64.5 162.95 L65.0 162.39 L65.5 162.40 L66.0 162.58 L66.5 161.85 L67.0 161.87 L67.5 161.35 L68.0 160.75 L68.5 160.21 L69.0 160.16 L69.5 160.00 L70.0 159.48 L70.5 159.23 L71.0 158.97 L71.5 158.41 L72.0 157.81 L72.5 157.69 L73.0 157.52 L73.5 156.84 L74.0 156.41 L74.5 156.04 L75.0 155.82 L75.5 155.45 L76.0 155.07 L76.5 154.41 L77.0 154.29 L77.5 153.75 L78.0 153.27 L78.5 152.66 L79.0 152.41 L79.5 152.11 L80.0 151.87 L80.5 151.51 L81.0 151.01 L81.5 150.64 L82.0 149.92 L82.5 149.93 L83.0 149.52 L83.5 149.07 L84.0 148.40 L84.5 148.07 L85.0 147.57 L85.5 146.97 L86.0 146.78 L86.5 146.10 L87.0 145.64 L87.5 145.73 L88.0 145.32 L88.5 144.97 L89.0 144.27 L89.5 143.95 L90.0 143.64 L90.5 143.01 L91.0 142.22 L91.5 142.73 L92.0 142.07 L92.5 141.63 L93.0 140.93 L93.5 140.28 L94.0 140.01 L94.5 139.59 L95.0 138.75 L95.5 138.47 L96.0 138.22 L96.5 137.94 L97.0 137.25 L97.5 136.53 L98.0 135.83 L98.5 136.06 L99.0 135.14 L99.5 134.78 L100.0 134.12 L100.5 133.31 L101.0 133.58 L101.5 132.75 L102.0 132.37 L102.5 131.43 L103.0 131.10 L103.5 130.90 L104.0 130.03 L104.5 129.45 L105.0 128.86 L105.5 128.32 L106.0 128.30 L106.5 127.62 L107.0 126.74 L107.5 126.98 L108.0 126.44 L108.5 125.93 L109.0 124.78 L109.5 124.73 L110.0 124.51 L110.5 123.52 L111.0 123.09 L111.5 122.74 L112.0 121.88 L112.5 121.90 L113.0 121.60 L113.5 121.06 L114.0 120.78 L114.5 120.01 L115.0 119.52 L115.5 119.03 L116.0 118.46 L116.5 117.92 L117.0 117.54 L117.5 117.23 L118.0 116.68 L118.5 116.37 L119.0 115.91 L119.5 115.59 L120.0 114.88 L120.5 114.09 L121.0 113.88 L121.5 114.07 L122.0 113.36 L122.5 112.66 L123.0 112.25 L123.5 111.82 L124.0 111.29 L124.5 110.98 L125.0 110.64 L125.5 110.31 L126.0 109.51 L126.5 109.08 L127.0 108.62 L127.5 108.25 L128.0 108.04 L128.5 107.20 L129.0 107.42 L129.5 106.62 L130.0 106.32 L130.5 105.46 L131.0 105.16 L131.5 104.73 L132.0 104.45 L132.5 103.61 L133.0 103.78 L133.5 102.93 L134.0 103.02 L134.5 102.80 L135.0 102.22 L135.5 101.85 L136.0 101.52 L136.5 101.19 L137.0 100.98 L137.5 100.81 L138.0 100.44 L138.5 100.32 L139.0 99.71 L139.5 99.28 L140.0 98.99 L140.5 98.52 L141.0 98.41 L141.5 98.07 L142.0 98.29 L142.5 97.72 L143.0 97.72 L143.5 96.62 L144.0 96.82 L144.5 96.71 L145.0 96.28 L145.5 95.85 L146.0 95.73 L146.5 95.47 L147.0 95.24 L147.5 95.03 L148.0 94.96 L148.5 94.58 L149.0 94.38 L149.5 94.12 L150.0 94.02 L150.5 93.58 L151.0 93.68 L151.5 93.30 L152.0 93.38 L152.5 92.90 L153.0 92.85 L153.5 92.66 L154.0 92.31 L154.5 92.59 L155.0 92.28 L155.5 92.04 L156.0 92.14 L156.5 91.63 L157.0 91.53 L157.5 91.61 L158.0 91.73 L158.5 91.05 L159.0 91.22 L159.5 90.73 L160.0 90.35 L160.5 90.48 L161.0 90.48 L161.5 90.09 L162.0 90.00 L162.5 89.52 L163.0 89.13 L163.5 89.56 L164.0 89.08 L164.5 89.27 L165.0 89.05 L165.5 89.15 L166.0 89.24 L166.5 88.62 L167.0 88.90 L167.5 88.86 L168.0 89.16 L168.5 88.85 L169.0 88.63 L169.5 88.67 L170.0 89.18 L170.5 88.58 L171.0 88.78 L171.5 88.82 L172.0 88.50 L172.5 88.57 L173.0 88.31 L173.5 88.54 L174.0 88.88 L174.5 88.78 L175.0 88.31 L175.5 89.03 L176.0 88.42 L176.5 88.49 L177.0 89.04 L177.5 88.78 L178.0 88.65 L178.5 88.98 L179.0 88.63 L179.5 88.71 L180.0 88.50 L180.5 88.58 L181.0 88.59 L181.5 88.83 L182.0 88.45 L182.5 88.54 L183.0 88.10 L183.5 88.19 L184.0 88.71 L184.5 88.47 L185.0 88.48 L185.5 88.68 L186.0 88.47 L186.5 88.55 L187.0 88.46 L187.5 88.08 L188.0 88.64 L188.5 88.82 L189.0 88.73 L189.5 88.47 L190.0 88.49 L190.5 88.49 L191.0 88.70 L191.5 88.60 L192.0 88.22 L192.5 88.22 L193.0 88.15 L193.5 88.01 L194.0 87.93 L194.5 87.97 L195.0 87.40 L195.5 87.93 L196.0 87.66 L196.5 87.41 L197.0 87.54 L197.5 87.32 L198.0 87.65 L198.5 87.04 L199.0 87.19 L199.5 87.15 L200.0 86.78 L200.5 86.58 L201.0 86.81 L201.5 86.52 L202.0 86.28 L202.5 86.04 L203.0 86.36 L203.5 86.42 L204.0 85.84 L204.5 85.93 L205.0 85.90 L205.5 85.73 L206.0 85.23 L206.5 85.31 L207.0 85.18 L207.5 85.41 L208.0 84.73 L208.5 84.73 L209.0 84.50 L209.5 84.27 L210.0 83.72 L210.5 83.79 L211.0 83.85 L211.5 83.23 L212.0 83.15 L212.5 82.71 L213.0 82.71 L213.5 82.50 L214.0 82.35 L214.5 81.88 L215.0 81.64 L215.5 81.37 L216.0 81.31 L216.5 81.04 L217.0 81.23 L217.5 80.36 L218.0 80.39 L218.5 79.86 L219.0 79.60 L219.5 79.65 L220.0 79.23 L220.5 78.96 L221.0 78.26 L221.5 78.80 L222.0 78.39 L222.5 77.48 L223.0 77.03 L223.5 76.85 L224.0 76.74 L224.5 76.17 L225.0 76.12 L225.5 75.61 L226.0 76.02 L226.5 75.07 L227.0 74.72 L227.5 74.93 L228.0 74.26 L228.5 73.88 L229.0 73.55 L229.5 73.36 L230.0 72.82 L230.5 72.61 L231.0 72.14 L231.5 71.63 L232.0 71.52 L232.5 71.29 L233.0 71.26 L233.5 70.63 L234.0 70.19 L234.5 69.96 L235.0 69.75 L235.5 68.83 L236.0 68.92 L236.5 68.25 L237.0 68.04 L237.5 67.97 L238.0 67.82 L238.5 67.58 L239.0 67.32 L239.5 67.31 L240.0 66.85 L240.5 66.58 L241.0 66.17 L241.5 66.40 L242.0 66.01 L242.5 65.37 L243.0 65.14 L243.5 65.21 L244.0 65.04 L244.5 64.56 L245.0 64.67 L245.5 64.00 L246.0 64.05 L246.5 64.15 L247.0 63.66 L247.5 63.68 L248.0 63.51 L248.5 63.34 L249.0 62.88 L249.5 63.11 L250.0 63.11 L250.5 63.02 L251.0 63.05 L251.5 63.00 L252.0 62.64 L252.5 62.59 L253.0 62.92 L253.5 62.67 L254.0 62.41 L254.5 62.28 L255.0 62.48 L255.5 62.41 L256.0 62.09 L256.5 62.13 L257.0 61.96 L257.5 61.88 L258.0 62.21 L258.5 61.47 L259.0 61.83 L259.5 61.38 L260.0 61.39 L260.5 61.66 L261.0 61.13 L261.5 61.16 L262.0 61.06 L262.5 61.13 L263.0 61.28 L263.5 61.42 L264.0 61.00 L264.5 61.30 L265.0 60.82 L265.5 61.52 L266.0 60.95 L266.5 60.93 L267.0 61.08 L267.5 61.03 L268.0 60.96 L268.5 60.63 L269.0 61.16 L269.5 61.12 L270.0 60.87 L270.5 60.69 L271.0 60.99 L271.5 61.15 L272.0 60.53 L272.5 60.64 L273.0 60.89 L273.5 60.69 L274.0 60.79 L274.5 60.84 L275.0 61.03 L275.5 61.05 L276.0 61.11 L276.5 61.12 L277.0 60.82 L277.5 60.48 L278.0 61.10 L278.5 61.18 L279.0 61.23 L279.5 61.04 L280.0 61.64 L280.5 60.92 L281.0 61.51 L281.5 61.52 L282.0 61.64 L282.5 61.79 L283.0 61.65 L283.5 61.66 L284.0 61.58 L284.5 61.86 L285.0 61.83 L285.5 61.96 L286.0 61.60 L286.5 61.57 L287.0 61.96 L287.5 62.11 L288.0 61.72 L288.5 61.89 L289.0 62.10 L289.5 62.30 L290.0 62.37 L290.5 62.59 L291.0 62.42 L291.5 62.64 L292.0 62.91 L292.5 62.68 L293.0 63.34 L293.5 62.90 L294.0 63.13 L294.5 62.85 L295.0 63.40 L295.5 63.48 L296.0 63.64 L296.5 64.05 L297.0 63.97 L297.5 64.50 L298.0 64.27 L298.5 64.86 L299.0 65.54 L299.5 65.58 L300.0 65.99 L300.5 65.99 L301.0 66.24 L301.5 67.17 L302.0 67.44 L302.5 67.78 L303.0 67.97 L303.5 68.60 L304.0 68.65 L304.5 69.29 L305.0 69.68 L305.5 69.75 L306.0 70.66 L306.5 70.79 L307.0 71.35 L307.5 71.28 L308.0 71.76 L308.5 72.34 L309.0 72.96 L309.5 73.52 L310.0 73.78 L310.5 74.09 L311.0 74.66 L311.5 74.91 L312.0 75.42 L312.5 75.89 L313.0 76.07 L313.5 76.73 L314.0 76.75 L314.5 77.31 L315.0 78.05 L315.5 78.19 L316.0 78.85 L316.5 79.21 L317.0 79.54 L317.5 80.33 L318.0 80.52 L318.5 80.71 L319.0 81.14 L319.5 81.69 L320.0 81.76 L320.5 82.73 L321.0 82.88 L321.5 82.93 L322.0 83.49 L322.5 84.40 L323.0 84.54 L323.5 85.35 L324.0 85.28 L324.5 85.76 L325.0 86.46 L325.5 86.88 L326.0 86.60 L326.5 87.36 L327.0 87.31 L327.5 87.80 L328.0 87.88 L328.5 88.74 L329.0 88.75 L329.5 89.16 L330.0 90.09 L330.5 90.22 L331.0 90.34 L331.5 90.33 L332.0 91.13 L332.5 90.91 L333.0 91.54 L333.5 92.22 L334.0 92.58 L334.5 92.77 L335.0 93.24 L335.5 93.43 L336.0 93.55 L336.5 94.04 L337.0 94.73 L337.5 94.66 L338.0 95.05 L338.5 95.41 L339.0 95.31 L339.5 95.69 L340.0 95.88 L340.5 96.60 L341.0 96.75 L341.5 96.87 L342.0 97.17 L342.5 97.92 L343.0 98.25 L343.5 98.49 L344.0 98.73 L344.5 99.17 L345.0 99.42 L345.5 99.84 L346.0 100.04 L346.5 100.28 L347.0 100.71 L347.5 101.30 L348.0 101.98 L348.5 101.82 L349.0 102.14 L349.5 102.90 L350.0 103.27 L350.5 103.32 L351.0 103.70 L351.5 104.05 L352.0 104.59 L352.5 105.52 L353.0 105.03 L353.5 105.59 L354.0 105.75 L354.5 106.21 L355.0 106.60 L355.5 106.90 L356.0 106.96 L356.5 107.30 L357.0 108.05 L357.5 108.25 L358.0 108.58 L358.5 109.01 L359.0 109.08 L359.5 109.86 L360.0 109.79 L360.5 110.10 L361.0 110.50 L361.5 111.07 L362.0 112.06 L362.5 111.90 L363.0 112.36 L363.5 113.05 L364.0 113.06 L364.5 113.27 L365.0 113.88 L365.5 114.38 L366.0 114.56 L366.5 115.32 L367.0 115.86 L367.5 116.74 L368.0 116.93 L368.5 117.24 L369.0 117.55 L369.5 117.95 L370.0 118.15 L370.5 118.94 L371.0 118.90 L371.5 119.76 L372.0 120.55 L372.5 120.50 L373.0 121.06 L373.5 121.17 L374.0 121.33 L374.5 122.16 L375.0 122.43 L375.5 122.96 L376.0 123.26 L376.5 123.73 L377.0 123.87 L377.5 124.46 L378.0 124.94 L378.5 124.98 L379.0 125.39 L379.5 126.05 L380.0 126.30 L380.5 126.51 L381.0 126.58 L381.5 127.21 L382.0 127.94 L382.5 127.88 L383.0 128.28 L383.5 128.46 L384.0 128.97 L384.5 129.32 L385.0 129.71 L385.5 129.82 L386.0 130.04 L386.5 131.04 L387.0 130.93 L387.5 131.01 L388.0 131.46 L388.5 131.89 L389.0 132.31 L389.5 132.44 L390.0 132.59 L390.5 133.05 L391.0 132.93 L391.5 133.31 L392.0 134.06 L392.5 134.12 L393.0 134.35 L393.5 134.50 L394.0 134.67 L394.5 135.25 L395.0 135.49 L395.5 136.13 L396.0 135.85 L396.5 136.31 L397.0 136.50 L397.5 136.66 L398.0 137.51 L398.5 137.68 L399.0 137.68 L399.5 137.61 L400.0 138.24 L400.5 138.53 L401.0 138.54 L401.5 138.57 L402.0 139.55 L402.5 139.10 L403.0 139.87 L403.5 139.72 L404.0 140.01 L404.5 140.55 L405.0 140.31 L405.5 140.71 L406.0 140.99 L406.5 141.47 L407.0 141.65 L407.5 141.68 L408.0 141.60 L408.5 142.33 L409.0 142.19 L409.5 142.54 L410.0 142.28 L410.5 142.84 L411.0 143.19 L411.5 143.19 L412.0 143.59 L412.5 143.93 L413.0 144.18 L413.5 143.91 L414.0 143.88 L414.5 143.87 L415.0 144.52 L415.5 144.42 L416.0 145.06 L416.5 144.70 L417.0 145.57 L417.5 145.54 L418.0 145.37 L418.5 145.97 L419.0 146.23 L419.5 146.42 L420.0 146.49 L420.5 146.82 L421.0 147.00 L421.5 147.01 L422.0 147.30 L422.5 147.19 L423.0 147.84 L423.5 147.59 L424.0 148.02 L424.5 148.00 L425.0 148.65 L425.5 148.67 L426.0 148.59 L426.5 149.05 L427.0 149.12 L427.5 149.48 L428.0 149.51 L428.5 149.65 L429.0 149.77 L429.5 149.60 L430.0 150.20 L430.5 150.39 L431.0 150.15 L431.5 150.59 L432.0 150.85 L432.5 150.91 L433.0 151.10 L433.5 151.13 L434.0 150.96 L434.5 151.63 L435.0 151.29 L435.5 151.26 L436.0 151.82 L436.5 151.47 L437.0 151.93 L437.5 151.69 L438.0 152.23 L438.5 152.38 L439.0 152.12 L439.5 152.46 L440.0 152.60 L440.5 152.54 L441.0 152.78 L441.5 152.76 L442.0 152.75 L442.5 152.78 L443.0 153.16 L443.5 153.32 L444.0 153.49 L444.5 153.52 L445.0 153.67 L445.5 153.55 L446.0 154.11 L446.5 153.67 L447.0 154.12 L447.5 154.02 L448.0 154.10 L448.5 154.71 L449.0 154.49 L449.5 154.23 L450.0 154.66 L450.5 154.58 L451.0 155.18 L451.5 154.70 L452.0 154.98 L452.5 154.96 L453.0 155.04 L453.5 155.42 L454.0 155.61 L454.5 155.74 L455.0 155.55 L455.5 155.57 L456.0 155.92 L456.5 155.84 L457.0 156.38 L457.5 155.87 L458.0 156.39 L458.5 156.16 L459.0 156.34 L459.5 156.34 L460.0 156.53 L460.5 157.05 L461.0 156.92 L461.5 156.97 L462.0 157.07 L462.5 157.26 L463.0 157.50 L463.5 157.90 L464.0 157.85 L464.5 157.96 L465.0 158.07 L465.5 158.37 L466.0 158.14 L466.5 158.53 L467.0 158.34 L467.5 158.46 L468.0 158.93 L468.5 158.91 L469.0 158.96 L469.5 158.89 L470.0 159.29 L470.5 159.75 L471.0 159.49 L471.5 159.58 L472.0 159.51 L472.5 159.87 L473.0 159.60 L473.5 160.39 L474.0 159.89 L474.5 159.91 L475.0 160.23 L475.5 159.80 L476.0 159.95 L476.5 160.01 L477.0 160.18 L477.5 160.67 L478.0 160.15 L478.5 160.95 L479.0 160.69 L479.5 160.89 L480.0 160.66 L480.5 160.35 L481.0 160.49 L481.5 161.09 L482.0 160.81 L482.5 161.02 L483.0 161.07 L483.5 161.39 L484.0 161.42 L484.5 161.28 L485.0 161.30 L485.5 161.55 L486.0 161.18 L486.5 161.32 L487.0 161.25 L487.5 161.40 L488.0 161.34 L488.5 161.91 L489.0 161.73 L489.5 162.23 L490.0 161.84 L490.5 162.03 L491.0 161.92 L491.5 162.24 L492.0 162.27 L492.5 162.13 L493.0 162.32 L493.5 162.15 L494.0 162.24 L494.5 162.20 L495.0 162.66 L495.5 162.32 L496.0 162.34 L496.5 162.84 L497.0 162.66 L497.5 162.44 L498.0 162.55 L498.5 162.71 L499.0 162.66 L499.5 162.93 L500.0 162.74 L500.5 162.80 L501.0 163.27 L501.5 163.52 L502.0 163.51 L502.5 163.19 L503.0 163.45 L503.5 163.35 L504.0 163.83 L504.5 163.57 L505.0 163.66 L505.5 164.02 L506.0 163.94 L506.5 163.75 L507.0 163.56 L507.5 163.75 L508.0 163.59 L508.5 164.30 L509.0 163.96 L509.5 164.19 L510.0 164.14 L510.5 163.99 L511.0 164.25 L511.5 164.32 L512.0 164.28 L512.5 164.33 L513.0 164.46 L513.5 164.23 L514.0 164.45 L514.5 164.42 L515.0 164.40 L515.5 164.64 L516.0 164.19 L516.5 164.41 L517.0 164.70 L517.5 165.11 L518.0 164.95 L518.5 164.71 L519.0 165.22 L519.5 164.98 L520.0 164.85 L520.5 165.01 L521.0 165.40 L521.5 165.28 L522.0 165.00 L522.5 164.96 L523.0 165.36 L523.5 165.02 L524.0 165.20 L524.5 165.49 L525.0 165.16 L525.5 165.25 L526.0 165.50 L526.5 165.43 L527.0 165.81 L527.5 165.56 L528.0 165.73 L528.5 165.78 L529.0 165.55 L529.5 165.89 L530.0 166.03 L530.5 165.75 L531.0 165.71 L531.5 165.81 L532.0 166.20 L532.5 165.94 L533.0 165.88 L533.5 165.75 L534.0 166.05 L534.5 165.81 L535.0 166.33 L535.5 166.00 L536.0 165.94 L536.5 166.45 L537.0 166.35 L537.5 166.42 L538.0 166.15 L538.5 166.55 L539.0 166.48 L539.5 166.48 L540.0 166.67 L540.5 166.73 L541.0 166.52 L541.5 166.89 L542.0 166.69 L542.5 166.58 L543.0 166.75 L543.5 166.69 L544.0 166.97" stroke="#40AE62" stroke-width="1.05" fill="none"/>
<path d="M48.5 142.21 L49.0 142.03 L49.5 141.95 L50.0 142.00 L50.5 141.35 L51.0 141.26 L51.5 141.32 L52.0 141.30 L52.5 141.16 L53.0 140.77 L53.5 140.31 L54.0 140.00 L54.5 140.20 L55.0 139.94 L55.5 139.89 L56.0 139.82 L56.5 139.20 L57.0 139.46 L57.5 138.85 L58.0 138.67 L58.5 138.51 L59.0 137.84 L59.5 138.51 L60.0 137.69 L60.5 137.75 L61.0 137.12 L61.5 136.67 L62.0 136.53 L62.5 136.26 L63.0 135.83 L63.5 135.43 L64.0 135.86 L64.5 135.29 L65.0 135.19 L65.5 135.15 L66.0 134.49 L66.5 134.32 L67.0 134.24 L67.5 133.80 L68.0 133.46 L68.5 132.90 L69.0 132.58 L69.5 132.61 L70.0 132.07 L70.5 131.97 L71.0 131.58 L71.5 131.16 L72.0 130.86 L72.5 130.39 L73.0 130.23 L73.5 129.15 L74.0 129.06 L74.5 128.90 L75.0 128.80 L75.5 127.70 L76.0 127.55 L76.5 127.36 L77.0 127.14 L77.5 126.37 L78.0 125.63 L78.5 125.74 L79.0 125.42 L79.5 124.95 L80.0 124.54 L80.5 124.17 L81.0 123.48 L81.5 123.36 L82.0 123.01 L82.5 122.43 L83.0 121.85 L83.5 121.51 L84.0 121.38 L84.5 120.70 L85.0 120.71 L85.5 120.09 L86.0 119.59 L86.5 119.41 L87.0 118.82 L87.5 118.86 L88.0 118.29 L88.5 117.40 L89.0 117.04 L89.5 116.25 L90.0 116.40 L90.5 115.87 L91.0 115.36 L91.5 114.55 L92.0 114.71 L92.5 114.17 L93.0 113.33 L93.5 112.81 L94.0 112.35 L94.5 112.14 L95.0 111.56 L95.5 110.97 L96.0 110.44 L96.5 109.71 L97.0 109.37 L97.5 108.63 L98.0 108.71 L98.5 107.98 L99.0 107.49 L99.5 106.90 L100.0 106.27 L100.5 105.54 L101.0 105.29 L101.5 104.86 L102.0 104.37 L102.5 104.15 L103.0 103.65 L103.5 102.74 L104.0 102.27 L104.5 102.17 L105.0 100.99 L105.5 100.91 L106.0 100.65 L106.5 100.03 L107.0 99.42 L107.5 99.19 L108.0 98.45 L108.5 97.93 L109.0 97.70 L109.5 97.18 L110.0 96.87 L110.5 96.56 L111.0 96.15 L111.5 94.90 L112.0 95.04 L112.5 94.63 L113.0 94.23 L113.5 93.51 L114.0 93.03 L114.5 92.68 L115.0 91.93 L115.5 91.21 L116.0 91.18 L116.5 90.62 L117.0 89.65 L117.5 89.56 L118.0 88.56 L118.5 88.25 L119.0 87.31 L119.5 87.01 L120.0 86.30 L120.5 85.80 L121.0 85.45 L121.5 85.01 L122.0 84.18 L122.5 84.23 L123.0 83.27 L123.5 82.67 L124.0 82.52 L124.5 82.57 L125.0 81.65 L125.5 81.07 L126.0 80.82 L126.5 80.65 L127.0 80.32 L127.5 79.92 L128.0 79.68 L128.5 79.52 L129.0 78.75 L129.5 78.45 L130.0 78.01 L130.5 77.72 L131.0 77.55 L131.5 77.01 L132.0 76.37 L132.5 76.43 L133.0 76.22 L133.5 75.60 L134.0 75.63 L134.5 75.11 L135.0 74.24 L135.5 74.13 L136.0 73.67 L136.5 73.49 L137.0 73.10 L137.5 73.03 L138.0 72.83 L138.5 71.97 L139.0 72.28 L139.5 71.81 L140.0 71.77 L140.5 71.23 L141.0 70.54 L141.5 70.75 L142.0 70.61 L142.5 70.37 L143.0 70.03 L143.5 69.59 L144.0 69.40 L144.5 69.20 L145.0 68.94 L145.5 68.97 L146.0 68.84 L146.5 68.74 L147.0 68.46 L147.5 68.16 L148.0 68.14 L148.5 67.83 L149.0 67.44 L149.5 67.68 L150.0 67.31 L150.5 67.15 L151.0 67.27 L151.5 66.96 L152.0 66.84 L152.5 66.97 L153.0 66.64 L153.5 66.43 L154.0 66.13 L154.5 65.52 L155.0 65.28 L155.5 65.47 L156.0 66.04 L156.5 65.36 L157.0 65.17 L157.5 65.26 L158.0 65.25 L158.5 64.97 L159.0 64.88 L159.5 64.72 L160.0 64.44 L160.5 64.29 L161.0 63.81 L161.5 64.18 L162.0 64.07 L162.5 64.05 L163.0 64.10 L163.5 63.50 L164.0 63.45 L164.5 63.78 L165.0 63.20 L165.5 63.52 L166.0 63.41 L166.5 63.45 L167.0 63.10 L167.5 63.35 L168.0 62.91 L168.5 63.28 L169.0 63.05 L169.5 62.91 L170.0 62.99 L170.5 63.17 L171.0 62.62 L171.5 62.76 L172.0 62.48 L172.5 62.91 L173.0 62.82 L173.5 62.43 L174.0 62.54 L174.5 62.32 L175.0 62.55 L175.5 62.74 L176.0 62.38 L176.5 62.49 L177.0 62.13 L177.5 62.84 L178.0 62.22 L178.5 62.49 L179.0 62.39 L179.5 62.69 L180.0 62.41 L180.5 62.38 L181.0 62.17 L181.5 62.72 L182.0 62.08 L182.5 62.79 L183.0 62.73 L183.5 62.85 L184.0 62.25 L184.5 62.29 L185.0 62.48 L185.5 62.67 L186.0 62.19 L186.5 62.66 L187.0 62.13 L187.5 62.51 L188.0 62.34 L188.5 62.35 L189.0 62.26 L189.5 62.39 L190.0 61.83 L190.5 62.39 L191.0 62.00 L191.5 62.04 L192.0 61.86 L192.5 62.13 L193.0 62.02 L193.5 61.79 L194.0 61.61 L194.5 62.14 L195.0 61.63 L195.5 61.72 L196.0 61.46 L196.5 61.67 L197.0 61.65 L197.5 61.50 L198.0 61.53 L198.5 61.44 L199.0 60.52 L199.5 60.73 L200.0 60.50 L200.5 60.79 L201.0 60.59 L201.5 60.15 L202.0 60.63 L202.5 60.19 L203.0 60.37 L203.5 59.75 L204.0 59.92 L204.5 59.87 L205.0 59.37 L205.5 59.36 L206.0 59.12 L206.5 58.88 L207.0 58.86 L207.5 58.19 L208.0 58.57 L208.5 58.24 L209.0 57.75 L209.5 57.96 L210.0 57.17 L210.5 57.13 L211.0 57.40 L211.5 57.02 L212.0 56.52 L212.5 56.71 L213.0 56.08 L213.5 55.84 L214.0 55.62 L214.5 55.47 L215.0 55.16 L215.5 54.55 L216.0 54.37 L216.5 54.29 L217.0 54.10 L217.5 53.61 L218.0 53.43 L218.5 53.10 L219.0 52.38 L219.5 52.22 L220.0 52.39 L220.5 51.54 L221.0 51.41 L221.5 50.63 L222.0 51.21 L222.5 50.05 L223.0 50.01 L223.5 49.62 L224.0 48.83 L224.5 48.78 L225.0 48.72 L225.5 48.00 L226.0 48.00 L226.5 47.40 L227.0 47.40 L227.5 47.30 L228.0 46.26 L228.5 46.24 L229.0 45.69 L229.5 45.32 L230.0 45.21 L230.5 44.93 L231.0 44.66 L231.5 44.33 L232.0 43.45 L232.5 43.50 L233.0 42.83 L233.5 43.03 L234.0 42.82 L234.5 42.38 L235.0 41.89 L235.5 41.76 L236.0 41.53 L236.5 41.16 L237.0 40.60 L237.5 40.32 L238.0 40.36 L238.5 39.76 L239.0 39.49 L239.5 39.15 L240.0 38.95 L240.5 38.63 L241.0 38.14 L241.5 37.83 L242.0 37.54 L242.5 37.33 L243.0 37.13 L243.5 36.41 L244.0 36.75 L244.5 35.90 L245.0 35.87 L245.5 35.33 L246.0 35.18 L246.5 35.00 L247.0 34.87 L247.5 34.55 L248.0 34.42 L248.5 33.93 L249.0 34.09 L249.5 33.18 L250.0 33.34 L250.5 33.13 L251.0 32.76 L251.5 32.64 L252.0 32.26 L252.5 32.33 L253.0 31.97 L253.5 32.04 L254.0 31.78 L254.5 31.62 L255.0 31.40 L255.5 31.03 L256.0 31.22 L256.5 31.10 L257.0 30.71 L257.5 30.42 L258.0 30.38 L258.5 30.62 L259.0 29.92 L259.5 30.23 L260.0 29.97 L260.5 30.10 L261.0 29.52 L261.5 29.83 L262.0 29.42 L262.5 29.66 L263.0 29.82 L263.5 29.33 L264.0 29.70 L264.5 29.24 L265.0 29.32 L265.5 29.59 L266.0 29.26 L266.5 29.10 L267.0 28.45 L267.5 28.73 L268.0 28.94 L268.5 28.67 L269.0 28.59 L269.5 28.87 L270.0 28.44 L270.5 28.47 L271.0 28.84 L271.5 29.11 L272.0 28.50 L272.5 28.68 L273.0 28.76 L273.5 28.50 L274.0 28.45 L274.5 28.71 L275.0 28.39 L275.5 28.46 L276.0 29.03 L276.5 28.22 L277.0 29.06 L277.5 28.95 L278.0 28.53 L278.5 28.92 L279.0 28.73 L279.5 28.51 L280.0 28.60 L280.5 28.59 L281.0 29.10 L281.5 28.53 L282.0 28.54 L282.5 28.76 L283.0 28.73 L283.5 29.37 L284.0 28.84 L284.5 28.83 L285.0 28.86 L285.5 28.90 L286.0 28.69 L286.5 29.18 L287.0 29.07 L287.5 29.23 L288.0 29.63 L288.5 29.67 L289.0 29.70 L289.5 29.43 L290.0 29.72 L290.5 29.74 L291.0 29.91 L291.5 30.09 L292.0 30.14 L292.5 30.64 L293.0 30.43 L293.5 31.05 L294.0 31.03 L294.5 31.10 L295.0 31.42 L295.5 31.45 L296.0 31.66 L296.5 32.16 L297.0 32.10 L297.5 33.31 L298.0 32.37 L298.5 32.59 L299.0 33.42 L299.5 33.31 L300.0 33.57 L300.5 33.79 L301.0 34.28 L301.5 34.50 L302.0 35.17 L302.5 35.24 L303.0 35.74 L303.5 36.27 L304.0 36.57 L304.5 36.82 L305.0 37.11 L305.5 37.43 L306.0 37.84 L306.5 38.76 L307.0 38.91 L307.5 39.37 L308.0 39.94 L308.5 40.41 L309.0 41.00 L309.5 41.32 L310.0 41.61 L310.5 41.85 L311.0 42.64 L311.5 42.97 L312.0 43.42 L312.5 43.68 L313.0 44.38 L313.5 44.93 L314.0 45.15 L314.5 45.77 L315.0 46.07 L315.5 46.42 L316.0 47.18 L316.5 47.28 L317.0 47.82 L317.5 47.86 L318.0 48.78 L318.5 48.91 L319.0 49.37 L319.5 49.71 L320.0 50.24 L320.5 50.43 L321.0 50.71 L321.5 51.34 L322.0 51.73 L322.5 51.93 L323.0 52.54 L323.5 52.98 L324.0 52.95 L324.5 53.56 L325.0 53.92 L325.5 53.84 L326.0 54.26 L326.5 54.40 L327.0 55.53 L327.5 55.49 L328.0 55.86 L328.5 56.42 L329.0 56.97 L329.5 57.07 L330.0 57.66 L330.5 57.92 L331.0 58.78 L331.5 58.09 L332.0 58.53 L332.5 58.78 L333.0 59.41 L333.5 59.42 L334.0 60.10 L334.5 59.85 L335.0 60.82 L335.5 61.05 L336.0 61.62 L336.5 61.79 L337.0 62.04 L337.5 62.45 L338.0 62.30 L338.5 63.05 L339.0 63.51 L339.5 64.24 L340.0 64.25 L340.5 64.26 L341.0 65.46 L341.5 65.15 L342.0 65.75 L342.5 65.89 L343.0 65.72 L343.5 67.03 L344.0 67.13 L344.5 67.78 L345.0 67.85 L345.5 68.50 L346.0 69.08 L346.5 69.25 L347.0 69.45 L347.5 69.75 L348.0 70.23 L348.5 70.32 L349.0 71.00 L349.5 71.50 L350.0 71.41 L350.5 71.83 L351.0 72.88 L351.5 72.85 L352.0 73.63 L352.5 73.74 L353.0 74.15 L353.5 74.42 L354.0 75.15 L354.5 75.47 L355.0 75.55 L355.5 75.55 L356.0 76.09 L356.5 76.76 L357.0 76.98 L357.5 77.74 L358.0 78.12 L358.5 78.55 L359.0 78.98 L359.5 79.31 L360.0 79.77 L360.5 80.14 L361.0 80.27 L361.5 80.91 L362.0 81.32 L362.5 81.93 L363.0 82.05 L363.5 82.35 L364.0 83.37 L364.5 83.54 L365.0 84.03 L365.5 84.56 L366.0 84.55 L366.5 85.26 L367.0 85.49 L367.5 85.61 L368.0 86.32 L368.5 86.72 L369.0 87.20 L369.5 87.41 L370.0 87.80 L370.5 88.00 L371.0 88.80 L371.5 88.56 L372.0 89.37 L372.5 89.62 L373.0 90.00 L373.5 90.52 L374.0 90.76 L374.5 90.82 L375.0 91.13 L375.5 91.56 L376.0 92.16 L376.5 92.65 L377.0 93.02 L377.5 93.48 L378.0 93.89 L378.5 94.12 L379.0 94.26 L379.5 94.81 L380.0 95.11 L380.5 95.94 L381.0 96.10 L381.5 96.00 L382.0 96.45 L382.5 97.05 L383.0 97.10 L383.5 97.57 L384.0 97.68 L384.5 97.97 L385.0 98.34 L385.5 98.36 L386.0 98.63 L386.5 99.01 L387.0 99.62 L387.5 99.76 L388.0 99.72 L388.5 100.54 L389.0 100.73 L389.5 101.14 L390.0 101.31 L390.5 101.56 L391.0 101.42 L391.5 102.22 L392.0 102.07 L392.5 102.72 L393.0 103.46 L393.5 103.42 L394.0 103.76 L394.5 103.87 L395.0 104.36 L395.5 104.32 L396.0 104.86 L396.5 105.29 L397.0 105.49 L397.5 105.61 L398.0 105.66 L398.5 106.35 L399.0 106.61 L399.5 106.97 L400.0 107.51 L400.5 107.30 L401.0 108.16 L401.5 107.98 L402.0 109.11 L402.5 109.13 L403.0 109.27 L403.5 109.23 L404.0 109.73 L404.5 110.01 L405.0 110.12 L405.5 110.41 L406.0 111.04 L406.5 111.11 L407.0 111.76 L407.5 111.87 L408.0 111.86 L408.5 112.27 L409.0 112.41 L409.5 112.35 L410.0 112.98 L410.5 112.91 L411.0 113.61 L411.5 113.75 L412.0 113.20 L412.5 113.96 L413.0 113.90 L413.5 114.70 L414.0 114.51 L414.5 114.79 L415.0 115.06 L415.5 114.91 L416.0 115.36 L416.5 115.82 L417.0 115.60 L417.5 116.07 L418.0 116.10 L418.5 116.86 L419.0 117.02 L419.5 116.80 L420.0 116.97 L420.5 117.35 L421.0 117.44 L421.5 117.65 L422.0 117.77 L422.5 118.49 L423.0 118.83 L423.5 118.66 L424.0 118.40 L424.5 118.66 L425.0 119.28 L425.5 119.15 L426.0 119.43 L426.5 119.77 L427.0 119.83 L427.5 120.38 L428.0 120.00 L428.5 120.49 L429.0 120.37 L429.5 120.84 L430.0 120.55 L430.5 121.02 L431.0 121.52 L431.5 121.28 L432.0 121.65 L432.5 121.62 L433.0 121.92 L433.5 121.94 L434.0 122.28 L434.5 122.05 L435.0 122.37 L435.5 122.69 L436.0 122.49 L436.5 122.93 L437.0 123.07 L437.5 123.04 L438.0 122.64 L438.5 123.57 L439.0 123.02 L439.5 123.40 L440.0 123.59 L440.5 123.96 L441.0 123.71 L441.5 123.61 L442.0 124.04 L442.5 124.36 L443.0 123.88 L443.5 124.34 L444.0 124.30 L444.5 124.44 L445.0 124.44 L445.5 124.68 L446.0 124.83 L446.5 125.34 L447.0 124.49 L447.5 125.37 L448.0 125.12 L448.5 124.97 L449.0 124.96 L449.5 125.68 L450.0 125.09 L450.5 125.96 L451.0 125.33 L451.5 125.81 L452.0 125.59 L452.5 125.57 L453.0 125.82 L453.5 126.46 L454.0 126.15 L454.5 126.24 L455.0 126.47 L455.5 126.60 L456.0 126.21 L456.5 126.59 L457.0 126.57 L457.5 126.55 L458.0 126.23 L458.5 126.99 L459.0 127.02 L459.5 126.81 L460.0 127.80 L460.5 126.79 L461.0 127.07 L461.5 127.25 L462.0 127.08 L462.5 127.31 L463.0 127.72 L463.5 127.21 L464.0 127.05 L464.5 127.42 L465.0 127.41 L465.5 127.56 L466.0 127.58 L466.5 127.78 L467.0 128.36 L467.5 127.91 L468.0 128.44 L468.5 127.99 L469.0 127.94 L469.5 127.68 L470.0 128.22 L470.5 128.35 L471.0 128.87 L471.5 127.94 L472.0 128.23 L472.5 128.36 L473.0 128.44 L473.5 128.53 L474.0 128.41 L474.5 128.62 L475.0 128.48 L475.5 128.52 L476.0 128.86 L476.5 129.12 L477.0 128.76 L477.5 128.55 L478.0 128.89 L478.5 129.07 L479.0 129.11 L479.5 129.45 L480.0 129.00 L480.5 129.23 L481.0 129.20 L481.5 129.79 L482.0 129.54 L482.5 129.46 L483.0 129.40 L483.5 129.85 L484.0 129.41 L484.5 130.03 L485.0 130.07 L485.5 130.04 L486.0 130.01 L486.5 130.04 L487.0 130.28 L487.5 130.11 L488.0 130.44 L488.5 129.97 L489.0 130.65 L489.5 130.39 L490.0 130.75 L490.5 130.63 L491.0 130.49 L491.5 130.65 L492.0 130.60 L492.5 130.98 L493.0 130.55 L493.5 130.61 L494.0 131.20 L494.5 131.14 L495.0 130.90 L495.5 131.31 L496.0 130.96 L496.5 131.32 L497.0 131.07 L497.5 131.59 L498.0 131.48 L498.5 131.60 L499.0 131.14 L499.5 131.41 L500.0 131.38 L500.5 131.66 L501.0 131.82 L501.5 131.49 L502.0 131.81 L502.5 131.95 L503.0 132.12 L503.5 132.05 L504.0 132.18 L504.5 132.46 L505.0 131.87 L505.5 132.54 L506.0 132.02 L506.5 132.37 L507.0 132.26 L507.5 132.54 L508.0 132.48 L508.5 132.85 L509.0 132.28 L509.5 132.91 L510.0 132.84 L510.5 133.05 L511.0 132.70 L511.5 133.20 L512.0 133.00 L512.5 133.14 L513.0 133.06 L513.5 133.24 L514.0 133.45 L514.5 133.14 L515.0 132.82 L515.5 133.32 L516.0 133.50 L516.5 133.24 L517.0 133.34 L517.5 133.14 L518.0 133.64 L518.5 133.34 L519.0 133.82 L519.5 133.91 L520.0 134.14 L520.5 134.04 L521.0 134.05 L521.5 133.86 L522.0 134.33 L522.5 133.48 L523.0 133.70 L523.5 134.39 L524.0 133.88 L524.5 133.83 L525.0 133.96 L525.5 134.33 L526.0 134.43 L526.5 134.38 L527.0 134.15 L527.5 134.25 L528.0 134.47 L528.5 134.31 L529.0 134.54 L529.5 134.16 L530.0 134.74 L530.5 134.55 L531.0 134.55 L531.5 134.48 L532.0 134.13 L532.5 134.96 L533.0 134.59 L533.5 134.75 L534.0 134.78 L534.5 135.03 L535.0 134.83 L535.5 135.32 L536.0 135.10 L536.5 134.89 L537.0 134.89 L537.5 135.62 L538.0 134.89 L538.5 135.01 L539.0 134.91 L539.5 135.23 L540.0 135.20 L540.5 135.53 L541.0 135.07 L541.5 135.00 L542.0 135.73 L542.5 134.76 L543.0 135.38 L543.5 135.01 L544.0 135.54" stroke="#F47478" stroke-width="1.05" fill="none"/>

<g fill="#333" font-size="9.3" stroke="#333" stroke-width="0.22">
<text x="459.4" y="117.3" textLength="83.4" lengthAdjust="spacingAndGlyphs">6 mo 40 °C/75% RH</text>
<text x="459.4" y="149.8" textLength="83.4" lengthAdjust="spacingAndGlyphs">3 mo 40 °C/75% RH</text>
<text x="457.6" y="178" textLength="84.5" lengthAdjust="spacingAndGlyphs">1 mo 40 °C/75% RH</text>
<text x="466.5" y="212.3" textLength="41.7" lengthAdjust="spacingAndGlyphs">Initial ASD</text>
</g>
</svg>
</body></html>
